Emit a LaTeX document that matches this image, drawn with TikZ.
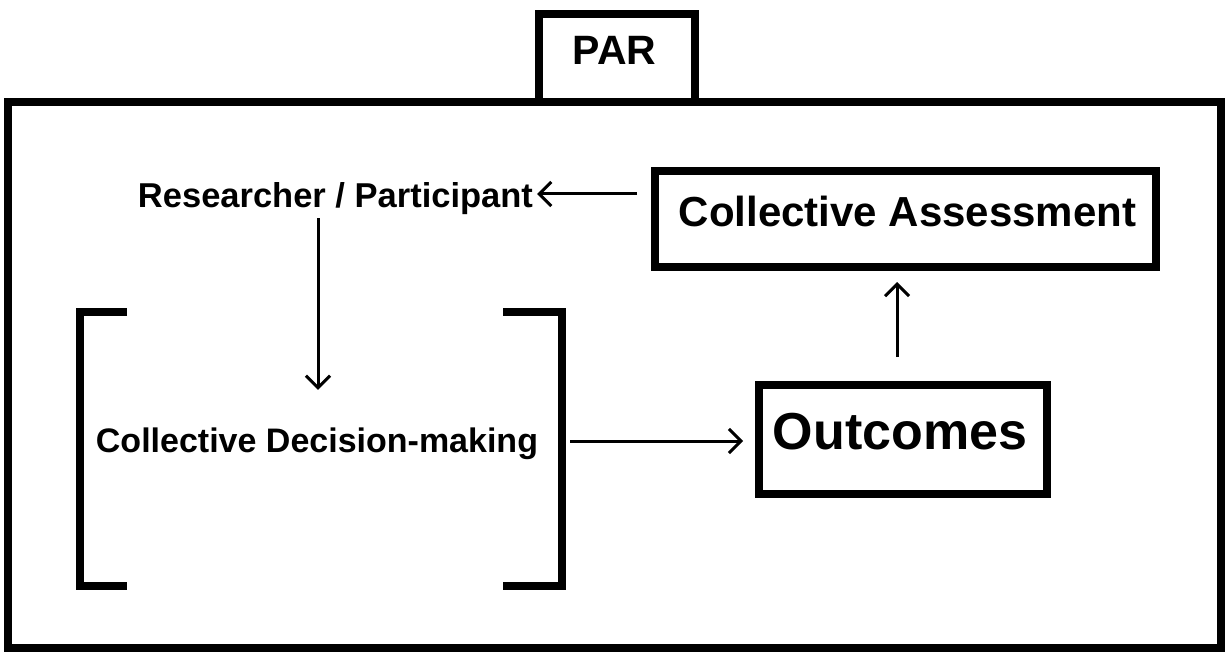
\documentclass[tikz,border=0pt]{standalone}
\usepackage{fontspec}
\setmainfont{Liberation Sans}
\usetikzlibrary{arrows.meta}
\begin{document}
\begin{tikzpicture}[x=1pt,y=-1pt,
  frame/.style={draw, line width=8pt, line join=miter},
  boxnode/.style={frame, inner sep=0pt},
  txt/.style={inner sep=0pt, anchor=base, font=\bfseries},
  bracketline/.style={line width=8pt, line join=miter},
  conn/.style={line width=3pt, -{Straight Barb[length=12pt,width=24pt,line width=3pt]}}
]
\useasboundingbox (0,0) rectangle (1225,652);
% outer frame and PAR tab
\draw[frame, fill=white] (7.5,102) rectangle (1221,648);
\node[boxnode, fill=white, minimum width=156pt, minimum height=88pt] (parbox) at (617,58) {};
\node[txt, font=\bfseries\fontsize{41}{41}\selectfont] (par) at (614.5,65) {PAR};
% collective assessment
\node[boxnode, minimum width=501pt, minimum height=96pt] (ca) at (905.5,219) {};
\node[txt, font=\bfseries\fontsize{42}{42}\selectfont] (catext) at (907.5,227) {Collective Assessment};
% outcomes
\node[boxnode, minimum width=288pt, minimum height=109pt] (out) at (903,439.5) {};
\node[txt, font=\bfseries\fontsize{52}{52}\selectfont] (outtext) at (900,449) {Outcomes};
% researcher / participant
\node[txt, font=\bfseries\fontsize{34.5}{34.5}\selectfont, text height=22pt, text depth=8pt] (res) at (335.5,208) {Researcher / Participant};
% decision making
\node[txt, font=\bfseries\fontsize{34}{34}\selectfont, text height=25pt, text depth=8pt] (dec) at (317,452) {Collective Decision-making};
% brackets
\draw[bracketline] (127,312) -- (80,312) -- (80,586) -- (127,586);
\draw[bracketline] (503,312) -- (562,312) -- (562,586) -- (503,586);
% connectors
\draw[conn] ([shift={(-14,-25)}]ca.west) -- ([shift={(4,-7)}]res.east);
\draw[conn] ([shift={(-17.5,2)}]res.south) -- ([shift={(1,-37)}]dec.north);
\draw[conn] ([shift={(32,-2.5)}]dec.east) -- ([shift={(-12,1.5)}]out.west);
\draw[conn] ([shift={(-6,-24)}]out.north) -- ([shift={(-8.5,11)}]ca.south);
\end{tikzpicture}
\end{document}
